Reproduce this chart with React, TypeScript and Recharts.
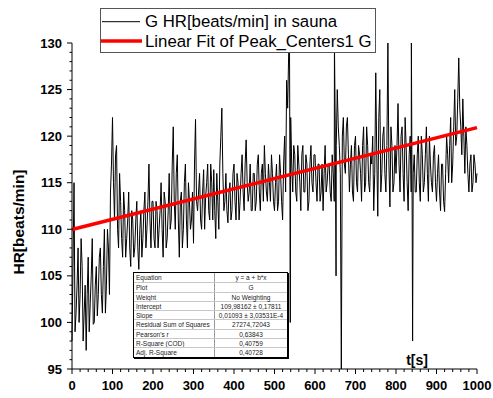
import React from "react";
import { LineChart, Line, XAxis, YAxis, Legend } from "recharts";

// HR samples: hrBpm at 0, 5, 10 ... 1000 s,
// hrHalf at 2.5, 7.5 ... 997.5 s
const SAMPLE_STEP = 5;
const hrBpm = [
  98, 115, 101, 108, 103, 106, 101, 97, 107, 102,
  109, 100, 106, 103, 108, 101, 110, 104, 108, 114,
  122, 111, 119, 108, 113, 107, 112, 109, 114, 106,
  111, 108, 113, 105.7, 112, 109, 114, 110, 117, 108,
  113, 108, 112, 110, 115, 107, 113, 109, 116, 111,
  121, 110, 118, 107, 114, 110, 117, 108, 113, 111,
  108.5, 121.8, 112, 116, 110, 116.4, 113.5, 117, 111, 115,
  116.4, 109, 113, 117, 123, 112, 116, 110.7, 115, 112,
  117, 111, 115, 113, 118, 112, 119.6, 113, 117, 112,
  116, 113, 118, 112, 117, 119, 114, 117, 113, 116,
  112, 117, 113, 116, 111, 120, 126, 129, 122, 114,
  118, 113, 117, 112, 119, 114, 117, 113, 119, 114,
  118, 113, 117, 114, 112, 119, 115, 117, 113, 116,
  121, 125, 119, 95, 122, 116, 122, 114, 119, 113,
  120, 114, 118, 113, 121, 115, 119, 114, 117, 112,
  126.8, 111.4, 125, 116, 121, 114, 130, 112.4, 119, 115,
  116, 123.5, 114, 121, 113, 119, 112, 120, 111, 118,
  114, 120, 113, 118, 115, 121, 113, 117, 114, 119,
  113, 118, 112, 117, 111.9, 120, 115, 122, 117, 125,
  120, 128.4, 121, 124, 116, 119, 114, 118, 115, 117,
  116,
];
const hrHalf = [
  106, 99, 104, 100, 109, 98, 104, 103, 99, 105,
  99.8, 104, 100.7, 107, 103, 106, 101, 110, 103, 117,
  115, 118, 110, 116, 109, 114, 107, 111, 108, 112,
  107, 111, 108, 110, 107, 112, 108, 113, 111, 113,
  109, 113, 108, 112, 110, 114, 108, 112, 110, 117,
  113, 116, 111, 113, 108, 115, 111, 115, 110, 114,
  117, 113, 114, 111, 114, 110, 115, 112, 117, 111,
  112, 116, 110, 120, 116, 113, 112, 114, 111, 116,
  113, 116, 111, 116, 114, 117, 115, 114, 112, 116,
  112, 117, 114, 116, 113, 116, 113, 115, 118, 113,
  115, 112, 118, 113, 117, 114, 123, 124, 117, 119,
  114, 119, 115, 118, 114, 118, 112, 117, 115, 118,
  115, 117, 113, 117, 116, 114, 117, 114, 118, 113,
  119, 121, 116, 120, 117, 121, 118, 117, 114, 119,
  115, 119, 116, 119, 114, 121, 115, 118, 120, 116,
  118, 122, 114, 120, 116, 119, 117, 121, 114, 119,
  119, 117, 120, 116, 122, 115, 118, 114, 116, 114,
  118, 115, 120, 114, 118, 116, 120, 115, 118, 115,
  116, 114, 117, 113, 116, 118, 119, 115, 121, 119,
  124, 123, 118, 120, 121, 116, 117, 114, 118, 115,
];

// single-sample artefacts (t, bpm)
const hrSpikes: [number, number][] = [
  [537, 130],
  [539, 100],
  [648, 130],
  [652, 105],
  [838, 130],
  [841, 98],
];

const fitLine = [
  { t: 0, fit: 109.98 },
  { t: 1000, fit: 120.91 },
];

const xMajorTicks = [0, 100, 200, 300, 400, 500, 600, 700, 800, 900, 1000];
const yMajorTicks = [95, 100, 105, 110, 115, 120, 125, 130];

const statLabels = [
  "Equation",
  "Plot",
  "Weight",
  "Intercept",
  "Slope",
  "Residual Sum of Squares",
  "Pearson's r",
  "R-Square (COD)",
  "Adj. R-Square",
];
const statValues = [
  "y = a + b*x",
  "G",
  "No Weighting",
  "109,98162 ± 0,17811",
  "0,01093 ± 3,03531E-4",
  "27274,72043",
  "0,63843",
  "0,40759",
  "0,40728",
];

const hrData = [
  ...hrBpm.map((v, i) => ({ t: i * SAMPLE_STEP, hr: v })),
  ...hrHalf.map((v, i) => ({ t: i * SAMPLE_STEP + SAMPLE_STEP / 2, hr: v })),
  ...hrSpikes.map(([t, v]) => ({ t, hr: v })),
].sort((a, b) => a.t - b.t);

function withMinor(majors: number[], parts: number) {
  const out: number[] = [];
  for (let i = 0; i < majors.length - 1; i++) {
    const step = (majors[i + 1] - majors[i]) / parts;
    for (let k = 0; k < parts; k++) out.push(majors[i] + k * step);
  }
  out.push(majors[majors.length - 1]);
  return out;
}
const xTicks = withMinor(xMajorTicks, 5);
const yTicks = withMinor(yMajorTicks, 5);

const FONT = "'Liberation Sans', Arial, sans-serif";

const XTick = (props: any) => {
  const { x, y, payload } = props;
  const major = xMajorTicks.includes(payload.value);
  return (
    <g>
      <line x1={x} x2={x} y1={y} y2={y + (major ? 5 : 3)} stroke="#000" />
      {major && (
        <text
          x={x}
          y={y + 21}
          textAnchor="middle"
          fontSize={13}
          fontWeight="bold"
          fontFamily={FONT}
          fill="#000"
        >
          {payload.value}
        </text>
      )}
    </g>
  );
};

const YTick = (props: any) => {
  const { x, y, payload } = props;
  const major = yMajorTicks.includes(payload.value);
  return (
    <g>
      <line x1={x} x2={x - (major ? 5 : 2.5)} y1={y} y2={y} stroke="#000" />
      {major && (
        <text
          x={x - 10}
          y={y + 4.6}
          textAnchor="end"
          fontSize={13}
          fontWeight="bold"
          fontFamily={FONT}
          fill="#000"
        >
          {payload.value}
        </text>
      )}
    </g>
  );
};

const LegendBox = () => (
  <div
    style={{
      width: 276,
      height: 45,
      boxSizing: "border-box",
      border: "1px solid #555",
      background: "#fff",
    }}
  >
    <svg width={274} height={43} style={{ display: "block" }}>
      <line x1={1} x2={39} y1={12.7} y2={12.7} stroke="#000" strokeWidth={1} />
      <text x={44} y={17.7} fontSize={16.8} fontFamily={FONT} fill="#000">
        G HR[beats/min] in sauna
      </text>
      <line x1={0} x2={41} y1={32} y2={32} stroke="#ff0000" strokeWidth={3.5} />
      <text x={44} y={37.7} fontSize={16.8} fontFamily={FONT} fill="#000">
        Linear Fit of Peak_Centers1 G
      </text>
    </svg>
  </div>
);

const StatsTable = () => (
  <div
    style={{
      position: "absolute",
      left: 133,
      top: 272,
      width: 155,
      boxSizing: "border-box",
      border: "1px solid #000",
      boxShadow: "1px 1px 0 #000",
      background: "#fff",
      fontFamily: FONT,
      fontSize: 6.5,
      color: "#222",
    }}
  >
    {statLabels.map((lab, i) => (
      <div
        key={lab}
        style={{
          display: "flex",
          height: 9.3,
          lineHeight: "9px",
          boxSizing: "border-box",
          borderTop: i === 0 ? "none" : "1px solid #c8c8c8",
          whiteSpace: "nowrap",
        }}
      >
        <div
          style={{
            width: 81,
            paddingLeft: 2,
            boxSizing: "border-box",
            borderRight: "1px solid #9a9a9a",
            overflow: "hidden",
          }}
        >
          {lab}
        </div>
        <div style={{ flex: 1, textAlign: "center" }}>{statValues[i]}</div>
      </div>
    ))}
  </div>
);

export default function App() {
  return (
    <div style={{ position: "absolute", left: 0, top: 0, width: 493, height: 398, background: "#fff" }}>
      <LineChart width={493} height={398} margin={{ top: 43, right: 16, bottom: 0, left: 0 }}>
        <XAxis
          type="number"
          dataKey="t"
          domain={[0, 1000]}
          ticks={xTicks}
          interval={0}
          height={29}
          tickSize={0}
          tickMargin={0}
          tickLine={false}
          axisLine={{ stroke: "#000" }}
          tick={<XTick />}
          label={{
            content: (p: any) => {
              const vb = p.viewBox;
              return (
                <text
                  x={vb.x + vb.width * 0.852}
                  y={vb.y - 4}
                  textAnchor="middle"
                  fontSize={14}
                  fontWeight="bold"
                  fontFamily={FONT}
                  fill="#000"
                >
                  t[s]
                </text>
              );
            },
          }}
        />
        <YAxis
          type="number"
          domain={[95, 130]}
          allowDataOverflow
          ticks={yTicks}
          interval={0}
          width={72}
          tickSize={0}
          tickMargin={0}
          tickLine={false}
          axisLine={{ stroke: "#000" }}
          tick={<YTick />}
          label={{
            content: (p: any) => {
              const vb = p.viewBox;
              const cx = vb.x + 24;
              const cy = vb.y + vb.height / 2 + 16;
              return (
                <text
                  x={cx}
                  y={cy}
                  transform={`rotate(-90, ${cx}, ${cy})`}
                  textAnchor="middle"
                  fontSize={15.5}
                  fontWeight="bold"
                  fontFamily={FONT}
                  fill="#000"
                >
                  HR[beats/min]
                </text>
              );
            },
          }}
        />
        <Legend
          layout="vertical"
          align="center"
          verticalAlign="middle"
          wrapperStyle={{ left: 100, top: 8, width: 276, height: 45 }}
          content={() => <LegendBox />}
        />
        <Line
          data={hrData}
          dataKey="hr"
          type="linear"
          stroke="#000"
          strokeWidth={1}
          dot={false}
          activeDot={false}
          isAnimationActive={false}
        />
        <Line
          data={fitLine}
          dataKey="fit"
          type="linear"
          stroke="#ff0000"
          strokeWidth={3.5}
          dot={false}
          activeDot={false}
          isAnimationActive={false}
        />
      </LineChart>
      <StatsTable />
    </div>
  );
}
